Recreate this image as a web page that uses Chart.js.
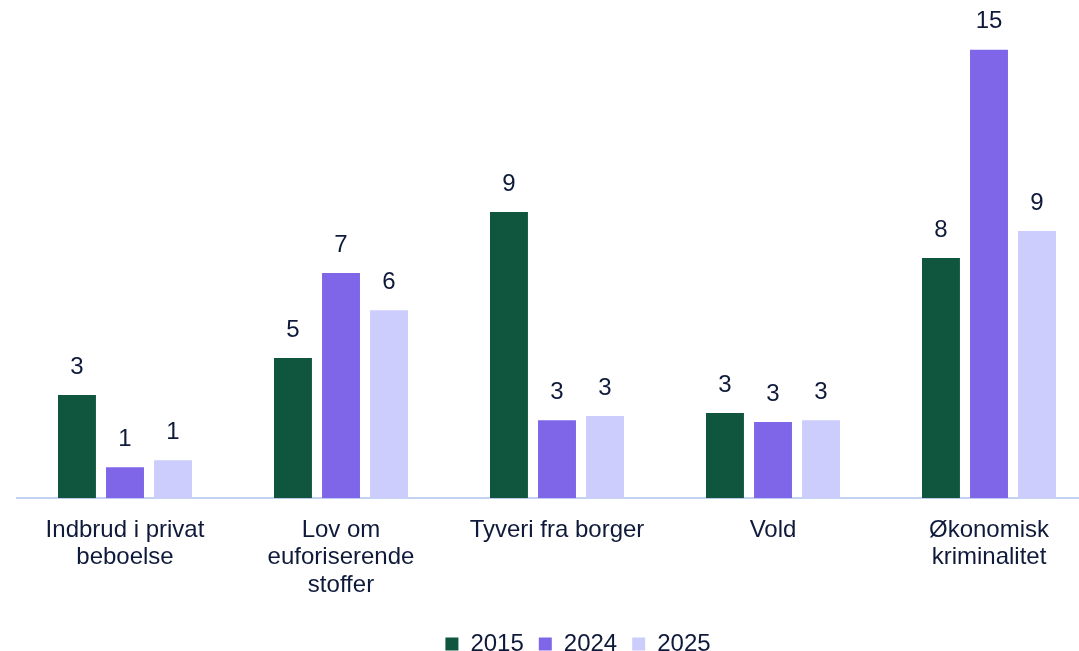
<!DOCTYPE html>
<html>
<head>
<meta charset="utf-8">
<script src="https://cdn.jsdelivr.net/npm/chart.js@4/dist/chart.umd.min.js"></script>
<style>
  html, body { margin: 0; padding: 0; background: #ffffff; overflow: hidden; }
  #wrap { position: absolute; left: 0; top: 0; width: 1139px; height: 651px; }
</style>
</head>
<body>
<div id="wrap"><canvas id="c" width="1139" height="651"></canvas></div>
<script>
const categories = [
  ["Indbrud i privat", "beboelse"],
  ["Lov om", "euforiserende", "stoffer"],
  ["Tyveri fra borger"],
  ["Vold"],
  ["Økonomisk", "kriminalitet"]
];
const seriesNames = ["2015", "2024", "2025"];
const values2015 = [3.40, 4.62, 9.44, 2.81, 7.92];
const values2024 = [1.02, 7.43, 2.57, 2.51, 14.79];
const values2025 = [1.25, 6.20, 2.71, 2.57, 8.81];
const seriesColors = ["#10563F", "#7F66E9", "#CCCDFD"];
const textColor = "#0F1A3A";
const fontFamily = "'Liberation Sans', Arial, sans-serif";

const labelPlugin = {
  id: 'barLabels',
  afterDatasetsDraw(chart) {
    const ctx = chart.ctx;
    ctx.save();
    ctx.font = "24px " + fontFamily;
    ctx.fillStyle = textColor;
    ctx.textAlign = 'center';
    ctx.textBaseline = 'middle';
    chart.data.datasets.forEach((ds, i) => {
      const meta = chart.getDatasetMeta(i);
      meta.data.forEach((bar, j) => {
        ctx.fillText(Math.round(ds.data[j]).toString(), bar.x, bar.y - 28);
      });
    });
    ctx.restore();
  }
};

new Chart(document.getElementById('c'), {
  type: 'bar',
  data: {
    labels: categories,
    datasets: [
      { label: seriesNames[0], data: values2015, backgroundColor: seriesColors[0] },
      { label: seriesNames[1], data: values2024, backgroundColor: seriesColors[1] },
      { label: seriesNames[2], data: values2025, backgroundColor: seriesColors[2] }
    ]
  },
  options: {
    responsive: false,
    animation: false,
    devicePixelRatio: 1,
    layout: { padding: { left: 17, right: 0, top: 13, bottom: -15 } },
    datasets: { bar: { categoryPercentage: 0.667, barPercentage: 0.79 } },
    scales: {
      x: {
        grid: { display: false, drawTicks: false },
        border: { display: true, color: '#C5D3F2', width: 2 },
        ticks: {
          color: textColor,
          font: { family: fontFamily, size: 24, lineHeight: 1.15 },
          padding: 18,
          autoSkip: false,
          maxRotation: 0
        }
      },
      y: {
        display: false,
        min: 0,
        max: 16
      },
      y2: {
        position: 'right',
        display: true,
        grid: { display: false, drawTicks: false },
        border: { display: false },
        ticks: { display: false },
        afterFit(axis) { axis.width = 42; }
      }
    },
    plugins: {
      legend: {
        position: 'bottom',
        labels: {
          color: textColor,
          font: { family: fontFamily, size: 24 },
          boxWidth: 13,
          boxHeight: 13,
          padding: 15
        }
      },
      tooltip: { enabled: false }
    }
  },
  plugins: [labelPlugin]
});
</script>
</body>
</html>
